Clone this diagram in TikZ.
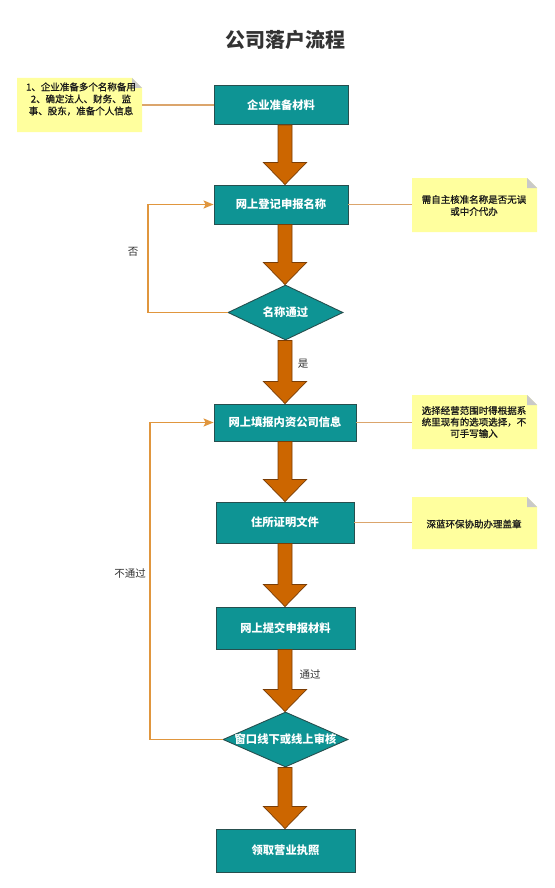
\documentclass[tikz,border=0pt]{standalone}
\usepackage{fontspec}
\setmainfont{Noto Sans CJK SC}
\newfontfamily\notefont{Noto Sans CJK SC}[FakeBold=0.9]
\usetikzlibrary{shapes.geometric,arrows.meta,calc}
\definecolor{tealfill}{HTML}{0E9494}
\definecolor{tealborder}{HTML}{264F4E}
\definecolor{orangefill}{HTML}{CC6600}
\definecolor{orangeborder}{HTML}{7A3D05}
\definecolor{notefill}{HTML}{FFFF9E}
\definecolor{foldgray}{HTML}{C9C9C9}
\definecolor{loopcol}{HTML}{E0963E}
\definecolor{notelinecol}{HTML}{DBA56C}
\definecolor{titlecol}{HTML}{333333}
\newcommand\bigarrow[3]{%
  \draw[bigarr] let \p1=(#1.south), \p2=(#2.north), \p3=(#3) in
    ({\x3-7pt},{\y1}) -- ({\x3-7pt},{\y2+22pt}) -- ({\x3-21.5pt},{\y2+22pt}) --
    ({\x3},{\y2}) -- ({\x3+21.5pt},{\y2+22pt}) -- ({\x3+7pt},{\y2+22pt}) --
    ({\x3+7pt},{\y1}) -- cycle;}
\begin{document}
\begin{tikzpicture}[x=1pt,y=-1pt,
  procbox/.style={rectangle, draw=tealborder, fill=tealfill, line width=0.9pt,
    text=white, font=\bfseries\fontsize{11.3}{13}\selectfont, inner sep=0},
  decbox/.style={diamond, draw=tealborder, fill=tealfill, line width=0.9pt,
    inner sep=0, minimum height=55pt},
  boxtext/.style={text=white, font=\bfseries\fontsize{11.3}{13}\selectfont, inner sep=0},
  noteshape/.style={rectangle, inner sep=0, minimum width=125pt,
    path picture={
      \fill[notefill] (path picture bounding box.south west) -- (path picture bounding box.north west)
        -- ([xshift=-10pt]path picture bounding box.north east) -- ([yshift=-10pt]path picture bounding box.north east)
        -- (path picture bounding box.south east) -- cycle;
      \fill[foldgray] ([xshift=-10pt]path picture bounding box.north east)
        -- ([xshift=-10pt,yshift=-10pt]path picture bounding box.north east)
        -- ([yshift=-10pt]path picture bounding box.north east) -- cycle;}},
  notetext/.style={align=center, inner sep=0, text=black!90, font=\notefont\fontsize{9.5}{12}\selectfont},
  bigarr/.style={fill=orangefill, draw=orangeborder, line width=0.7pt, line join=miter},
  loopline/.style={draw=loopcol, line width=1.3pt, -{Stealth[length=10pt,width=8pt,inset=2pt]}},
  noteline/.style={draw=notelinecol, line width=1.3pt},
  lbl/.style={text=titlecol, font=\fontsize{10.5}{12}\selectfont, inner sep=0}
]
\useasboundingbox[fill=white] (0,0) rectangle (554,888);

\node[text=titlecol, font=\bfseries\fontsize{20}{24}\selectfont, inner sep=0] (title) at (285,40) {公司落户流程};

\coordinate (axis) at (285,0);
\coordinate (l1) at (148,0);
\coordinate (l2) at (150,0);

\node[procbox, minimum width=134pt, minimum height=39pt] (b1) at (281,105) {企业准备材料};
\node[procbox, minimum width=134pt, minimum height=39pt] (b2) at (281,204.5) {网上登记申报名称};
\node[decbox, minimum width=115pt] (d1) at (285.5,312.5) {};
\node[boxtext] (d1t) at (d1) {名称通过};
\node[procbox, minimum width=142pt, minimum height=37pt] (b3) at (285,422.5) {网上填报内资公司信息};
\node[procbox, minimum width=138pt, minimum height=41pt] (b4) at (285,522.5) {住所证明文件};
\node[procbox, minimum width=139pt, minimum height=42pt] (b5) at (285.5,628) {网上提交申报材料};
\node[decbox, minimum width=125pt] (d2) at (285.5,739.5) {};
\node[boxtext] (d2t) at (d2) {窗口线下或线上审核};
\node[procbox, minimum width=139pt, minimum height=43pt] (b6) at (285.5,850.5) {领取营业执照};

\node[noteshape, minimum height=54pt] (n1) at (79.5,105) {};
\node[notetext] (n1t) at (81,99) {1、企业准备多个名称备用\\2、确定法人、财务、监\\事、股东，准备个人信息};
\node[noteshape, minimum height=54pt] (n2) at (474.5,205) {};
\node[notetext] (n2t) at (474,205.5) {需自主核准名称是否无误\\或中介代办};
\node[noteshape, minimum height=54pt] (n3) at (474.5,422) {};
\node[notetext, font=\notefont\fontsize{9.5}{11.5}\selectfont] (n3t) at (474,422) {选择经营范围时得根据系\\统里现有的选项选择，不\\可手写输入};
\node[noteshape, minimum height=52pt] (n4) at (474.5,523) {};
\node[notetext] (n4t) at (474,524) {深蓝环保协助办理盖章};

\draw[noteline] (b1.west -| n1.east) -- (b1.west);
\draw[noteline] (b2.east) -- (b2.east -| n2.west);
\draw[noteline] (b3.east) -- (b3.east -| n3.west);
\draw[noteline] (b4.east) -- (b4.east -| n4.west);

\bigarrow{b1}{b2}{axis}
\bigarrow{b2}{d1}{axis}
\bigarrow{d1}{b3}{axis}
\bigarrow{b3}{b4}{axis}
\bigarrow{b4}{b5}{axis}
\bigarrow{b5}{d2}{axis}
\bigarrow{d2}{b6}{axis}

\draw[loopline] (d1.west) -- (d1.west -| l1) -- (b2.west -| l1) -- (b2.west);
\draw[loopline] (d2.west) -- (d2.west -| l2) -- (b3.west -| l2) -- (b3.west);

\node[lbl] (lno) at (133,252) {否};
\node[lbl] (lyes) at (303,364) {是};
\node[lbl] (lpass) at (310,674) {通过};
\node[lbl] (lfail) at (130,574) {不通过};
\end{tikzpicture}
\end{document}
